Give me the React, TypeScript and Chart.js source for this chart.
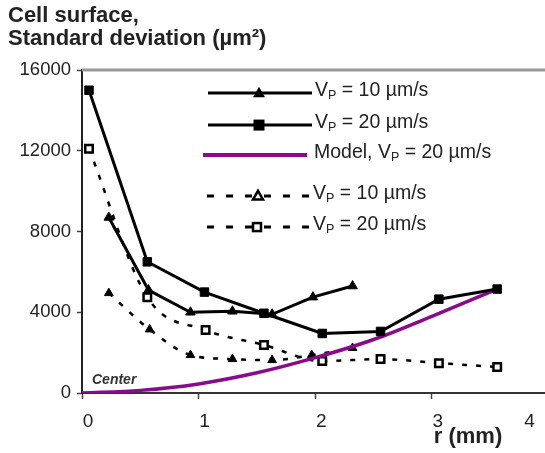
import React, { useEffect, useRef } from 'react';
import { Chart, registerables } from 'chart.js';

Chart.register(...registerables);

// ---- data ----
const rSolid10 = [0.23, 0.57, 0.93, 1.29, 1.63, 1.98, 2.32];
const vSolid10 = [8700, 5100, 4000, 4050, 3900, 4750, 5300];

const rSolid20 = [0.06, 0.56, 1.05, 1.56, 2.06, 2.56, 3.06, 3.56];
const vSolid20 = [15000, 6500, 5000, 3950, 2950, 3050, 4650, 5150];

const rModel = [0, 0.5, 1, 1.5, 2, 2.5, 3, 3.56];
const vModel = [0, 130, 450, 1000, 1750, 2650, 3800, 5150];

const rDash10 = [0.23, 0.58, 0.93, 1.29, 1.63, 1.97, 2.32];
const vDash10 = [4950, 3150, 1880, 1680, 1630, 1880, 2230];

const rDash20 = [0.06, 0.56, 1.06, 1.56, 2.06, 2.56, 3.06, 3.56];
const vDash20 = [12100, 4750, 3120, 2380, 1580, 1680, 1480, 1290];

const seriesLabels = [
  'V_P = 10 µm/s',
  'V_P = 20 µm/s',
  'Model, V_P = 20 µm/s',
  'V_P = 10 µm/s',
  'V_P = 20 µm/s',
];

const titleLines = ['Cell surface,', 'Standard deviation (µm²)'];
const xTitle = 'r (mm)';
const centerNote = 'Center';
const xMin = 0;
const xTickValues = [0, 1, 2, 3, 4];
const xViewMax = 3.97;     // visible range of the (cropped) original plot; tick 4 sits at the edge
const yMin = 0, yMax = 16000, yStep = 4000;

const PURPLE = '#8a0a8c';
const TEXT = '#222';
const ARIAL = '"Liberation Sans", Arial, sans-serif';

const pts = (xs: number[], ys: number[]) => xs.map((x, i) => ({ x, y: ys[i] }));

// legend layout (offsets relative to chart area top-left)
const legendRows = [
  { dy: 23, x0: 126, x1: 230, mx: 177, tx: 233, kind: 'solidTri' },
  { dy: 55, x0: 126, x1: 230, mx: 177, tx: 233, kind: 'solidSq' },
  { dy: 85, x0: 121, x1: 225, mx: -1, tx: 232, kind: 'model' },
  { dy: 126, x0: 125, x1: 228, mx: 176, tx: 231, kind: 'openTri' },
  { dy: 157, x0: 125, x1: 228, mx: 175, tx: 231, kind: 'openSq' },
];

function drawSubText(ctx: CanvasRenderingContext2D, label: string, x: number, y: number) {
  const big = `19.5px ${ARIAL}`;
  const small = `12.5px ${ARIAL}`;
  ctx.textBaseline = 'middle';
  ctx.textAlign = 'left';
  ctx.fillStyle = TEXT;
  const idx = label.indexOf('_');
  if (idx < 0) {
    ctx.font = big;
    ctx.fillText(label, x, y);
    return;
  }
  const pre = label.slice(0, idx);
  const sub = label.charAt(idx + 1);
  const post = label.slice(idx + 2);
  ctx.font = big;
  ctx.fillText(pre, x, y);
  let cx = x + ctx.measureText(pre).width;
  ctx.font = small;
  ctx.fillText(sub, cx, y + 4);
  cx += ctx.measureText(sub).width;
  ctx.font = big;
  ctx.fillText(post, cx, y);
}

const legendPlugin = {
  id: 'customLegend',
  afterDatasetsDraw(chart: any) {
    const ctx: CanvasRenderingContext2D = chart.ctx;
    const ca = chart.chartArea;
    ctx.save();
    chart.data.datasets.forEach((ds: any, i: number) => {
      const r = legendRows[i];
      if (!r) return;
      const y = ca.top + r.dy;
      const x0 = ca.left + r.x0;
      const x1 = ca.left + r.x1;
      const mx = ca.left + r.mx;
      ctx.beginPath();
      ctx.strokeStyle = ds.borderColor;
      ctx.lineWidth = r.kind === 'model' ? 4 : 3;
      ctx.setLineDash(ds.borderDash && ds.borderDash.length ? [7, 12] : []);
      ctx.moveTo(x0, y);
      ctx.lineTo(x1, y);
      ctx.stroke();
      ctx.setLineDash([]);
      ctx.fillStyle = '#000';
      ctx.strokeStyle = '#000';
      if (r.kind === 'solidTri' || r.kind === 'openTri') {
        const w = r.kind === 'solidTri' ? 12 : 10;
        const h = w * 0.87;
        ctx.beginPath();
        ctx.moveTo(mx, y - h * 0.6);
        ctx.lineTo(mx + w / 2, y + h * 0.4);
        ctx.lineTo(mx - w / 2, y + h * 0.4);
        ctx.closePath();
        if (r.kind === 'solidTri') {
          ctx.fill();
        } else {
          ctx.fillStyle = '#fff';
          ctx.fill();
          ctx.lineWidth = 2.5;
          ctx.stroke();
        }
      } else if (r.kind === 'solidSq') {
        ctx.fillRect(mx - 5.5, y - 5.5, 11, 11);
      } else if (r.kind === 'openSq') {
        ctx.fillStyle = '#fff';
        ctx.fillRect(mx - 4, y - 4, 8, 8);
        ctx.lineWidth = 2.5;
        ctx.strokeRect(mx - 4, y - 4, 8, 8);
      }
      drawSubText(ctx, ds.label, ca.left + r.tx, y - 2);
    });
    ctx.restore();
  },
};

const decorPlugin = {
  id: 'decor',
  beforeDatasetsDraw(chart: any) {
    const ctx: CanvasRenderingContext2D = chart.ctx;
    const ca = chart.chartArea;
    ctx.save();
    ctx.beginPath();
    ctx.strokeStyle = '#999';
    ctx.lineWidth = 3;
    ctx.moveTo(ca.left, ca.top);
    ctx.lineTo(chart.width, ca.top);
    ctx.stroke();
    ctx.font = `italic bold 14px ${ARIAL}`;
    ctx.fillStyle = '#333';
    ctx.textAlign = 'left';
    ctx.textBaseline = 'middle';
    ctx.fillText(centerNote, ca.left + 10, ca.bottom - 13);
    ctx.restore();
  },
};

const xTickFont = { family: ARIAL, size: 19, lineHeight: 2.21 };

export default function App() {
  const ref = useRef<HTMLCanvasElement>(null);
  useEffect(() => {
    if (!ref.current) return;
    const chart = new Chart(ref.current, {
      type: 'line',
      data: {
        datasets: [
          {
            label: seriesLabels[0],
            data: pts(rSolid10, vSolid10),
            borderColor: '#000',
            backgroundColor: '#000',
            borderWidth: 3,
            pointStyle: 'triangle',
            pointRadius: 5.5,
            pointBorderWidth: 1,
            pointBackgroundColor: '#000',
            tension: 0,
          },
          {
            label: seriesLabels[1],
            data: pts(rSolid20, vSolid20),
            borderColor: '#000',
            backgroundColor: '#000',
            borderWidth: 3,
            pointStyle: 'rect',
            pointRadius: 6,
            pointBorderWidth: 1,
            pointBackgroundColor: '#000',
            tension: 0,
          },
          {
            label: seriesLabels[2],
            data: pts(rModel, vModel),
            borderColor: PURPLE,
            backgroundColor: PURPLE,
            borderWidth: 3.5,
            pointRadius: 0,
            cubicInterpolationMode: 'monotone',
          },
          {
            label: seriesLabels[3],
            data: pts(rDash10, vDash10),
            borderColor: '#000',
            backgroundColor: '#000',
            borderWidth: 2.5,
            borderDash: [5, 9],
            pointStyle: 'triangle',
            pointRadius: 5,
            pointBorderWidth: 1,
            pointBackgroundColor: '#000',
            cubicInterpolationMode: 'monotone',
          },
          {
            label: seriesLabels[4],
            data: pts(rDash20, vDash20),
            borderColor: '#000',
            backgroundColor: '#fff',
            borderWidth: 2.5,
            borderDash: [5, 9],
            pointStyle: 'rect',
            pointRadius: 5.3,
            pointBorderWidth: 2.5,
            pointBackgroundColor: '#fff',
            pointBorderColor: '#000',
            cubicInterpolationMode: 'monotone',
          },
        ],
      },
      options: {
        responsive: false,
        animation: false,
        layout: { autoPadding: false, padding: { left: 8, right: 0, top: 0, bottom: 0 } },
        plugins: {
          legend: { display: false },
          tooltip: { enabled: false },
          title: {
            display: true,
            text: titleLines,
            align: 'start',
            color: TEXT,
            font: { family: ARIAL, size: 22, weight: 'bold', lineHeight: 1.07 },
            padding: { top: 4, bottom: 19 },
          },
        },
        scales: {
          x: {
            type: 'linear',
            min: xMin,
            max: xViewMax,
            afterBuildTicks: (s: any) => {
              s.ticks = xTickValues.filter((v) => v <= xViewMax).map((v) => ({ value: v }));
            },
            afterFit: (s: any) => { s.height = 60; s.paddingRight = 0; },
            ticks: {
              padding: 2,
              labelOffset: 6,
              maxRotation: 0,
              autoSkip: false,
              color: TEXT,
              font: xTickFont,
            },
            grid: { display: true, drawOnChartArea: false, drawTicks: true, tickLength: 6, color: '#444', tickWidth: 1.5 },
            border: { display: true, color: '#333', width: 2 },
            title: {
              display: true,
              text: xTitle + '       ',
              align: 'end',
              color: TEXT,
              font: { family: ARIAL, size: 22, weight: 'bold' },
              padding: { top: 0, bottom: 3 },
            },
          },
          xEnd: {
            type: 'linear',
            axis: 'x',
            min: xMin,
            max: xViewMax,
            position: { y: 0 },
            afterBuildTicks: (s: any) => {
              s.ticks = xTickValues.filter((v) => v > xViewMax).map((v) => ({ value: v }));
            },
            afterFit: (s: any) => { s.paddingRight = 0; s.paddingLeft = 0; },
            ticks: {
              padding: 8,
              labelOffset: -19,
              maxRotation: 0,
              autoSkip: false,
              color: TEXT,
              font: xTickFont,
            },
            grid: { display: false, drawTicks: false },
            border: { display: false },
          },
          y: {
            type: 'linear',
            min: yMin,
            max: yMax,
            afterFit: (s: any) => { s.width = 74; s.paddingRight = 0; },
            ticks: {
              stepSize: yStep,
              padding: 6,
              color: TEXT,
              font: { family: ARIAL, size: 18.5 },
              callback: (v: any) => String(v),
            },
            grid: { display: true, drawOnChartArea: false, drawTicks: true, tickLength: 5, color: '#444', tickWidth: 1.5 },
            border: { display: true, color: '#222', width: 2 },
          },
        },
      } as any,
      plugins: [decorPlugin, legendPlugin],
    });
    return () => chart.destroy();
  }, []);
  return (
    <div style={{ position: 'fixed', left: 0, top: 0, width: 545, height: 453, background: '#fff' }}>
      <canvas ref={ref} width={545} height={453} style={{ display: 'block' }} />
    </div>
  );
}
